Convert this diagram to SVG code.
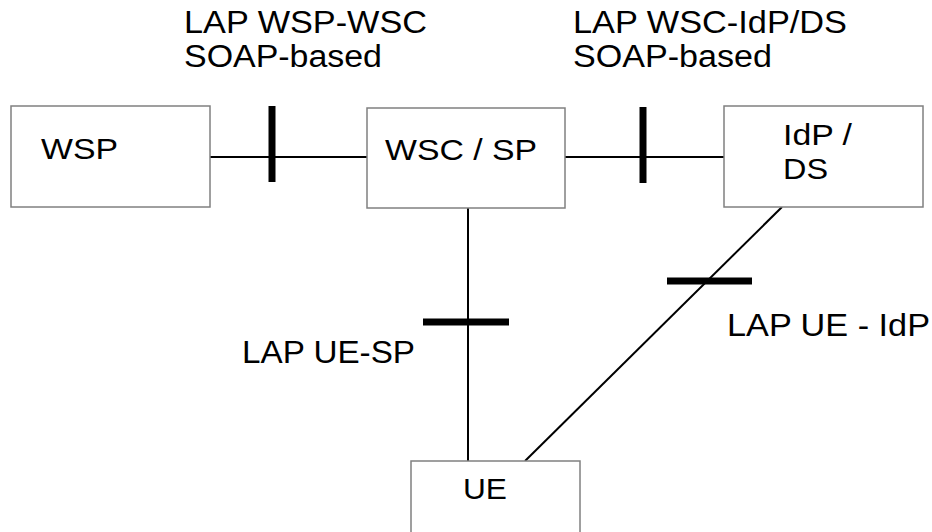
<svg xmlns="http://www.w3.org/2000/svg" width="932" height="532" viewBox="0 0 932 532">
<style>
.box{fill:#fff;stroke:#808080;stroke-width:1.5}
.ln{stroke:#000;stroke-width:2;fill:none}
.bar{stroke:#000;stroke-width:7;fill:none}
text{font-family:"Liberation Sans",Arial,sans-serif;font-size:30px;fill:#000}
.lbl{font-size:31px}
</style>
<rect width="932" height="532" fill="#fff"/>
<g id="connectors">
<line class="ln" x1="210" y1="157" x2="367" y2="157"/>
<line class="bar" x1="272" y1="106" x2="272" y2="182"/>
<line class="ln" x1="565" y1="157" x2="724" y2="157"/>
<line class="bar" x1="643" y1="107" x2="643" y2="183"/>
<line class="ln" x1="468" y1="208" x2="468" y2="461"/>
<line class="bar" x1="423" y1="322" x2="509" y2="322"/>
<line class="ln" x1="782" y1="207" x2="525" y2="461"/>
<line class="bar" x1="667" y1="281" x2="752" y2="281"/>
</g>
<g id="labels">
<text class="lbl" x="184" y="33" textLength="243" lengthAdjust="spacingAndGlyphs">LAP WSP-WSC</text>
<text class="lbl" x="184" y="67" textLength="198" lengthAdjust="spacingAndGlyphs">SOAP-based</text>
<text class="lbl" x="573" y="33" textLength="274" lengthAdjust="spacingAndGlyphs">LAP WSC-IdP/DS</text>
<text class="lbl" x="573" y="67" textLength="199" lengthAdjust="spacingAndGlyphs">SOAP-based</text>
<text class="lbl" x="242" y="363" textLength="173" lengthAdjust="spacingAndGlyphs">LAP UE-SP</text>
<text class="lbl" x="727" y="336" textLength="203" lengthAdjust="spacingAndGlyphs">LAP UE - IdP</text>
</g>
<g id="WSP">
<rect class="box" x="11" y="106" width="199" height="101"/>
<text x="41" y="159" textLength="77" lengthAdjust="spacingAndGlyphs">WSP</text>
</g>
<g id="WSC_SP">
<rect class="box" x="367" y="108" width="198" height="100"/>
<text x="385" y="160" textLength="152" lengthAdjust="spacingAndGlyphs">WSC / SP</text>
</g>
<g id="IdP_DS">
<rect class="box" x="724" y="106" width="199" height="101"/>
<text x="783" y="145" textLength="69" lengthAdjust="spacingAndGlyphs">IdP /</text>
<text x="783" y="179" textLength="45" lengthAdjust="spacingAndGlyphs">DS</text>
</g>
<g id="UE">
<rect class="box" x="411" y="461" width="169" height="90"/>
<text x="463" y="499" textLength="44" lengthAdjust="spacingAndGlyphs">UE</text>
</g>
</svg>
